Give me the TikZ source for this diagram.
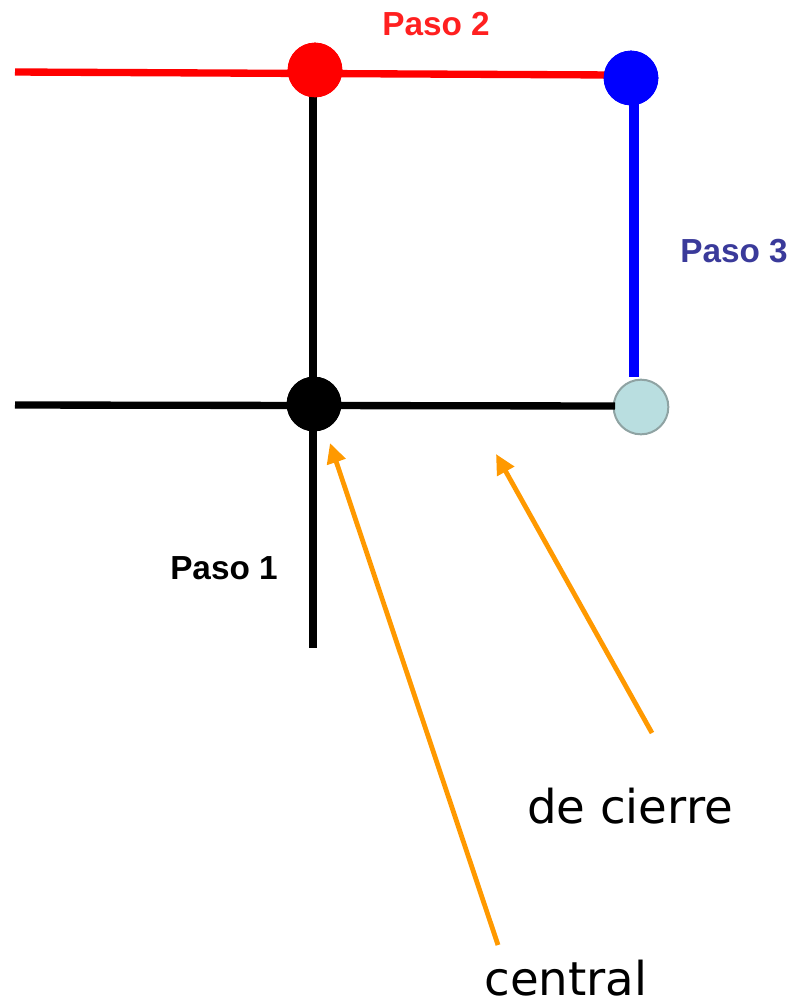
\documentclass[tikz,border=0pt]{standalone}
\usepackage{fontspec}
\setmainfont{DejaVu Sans}
\newfontfamily\pasofont{Liberation Sans}
\usetikzlibrary{arrows.meta}
\definecolor{arrorange}{HTML}{FF9900}
\definecolor{lightcyan}{HTML}{B9DEE0}
\definecolor{cyanedge}{HTML}{8FA3A3}
\definecolor{pasoblue}{HTML}{3A3A9A}
\definecolor{pasored}{HTML}{FF2020}
\tikzset{
  dot/.style={circle, minimum size=41pt, inner sep=0pt},
  pasolabel/.style={font=\pasofont\bfseries\fontsize{25}{28}\selectfont, inner sep=0pt},
  biglabel/.style={font=\fontsize{35}{40}\selectfont, inner sep=0pt},
  pointer/.style={arrorange, line width=3.6pt, -{Triangle[length=15pt,width=14pt]}},
}
\begin{document}
\begin{tikzpicture}[x=0.75pt, y=-0.75pt]
\useasboundingbox (0,0) rectangle (794,1004);
% nodes
\node[dot, fill=red] (red) at (315,70) {};
\node[dot, fill=blue] (blue) at (631,78) {};
\node[dot, fill=black] (black) at (314,404) {};
\node[dot, fill=lightcyan, draw=cyanedge, line width=1.5pt] (cyan) at (641,407) {};
\coordinate (redleft) at (15,72);
\coordinate (redright) at (615,75);
\coordinate (blackleft) at (15,405);
\coordinate (blackright) at (615,406);
\coordinate (top) at (313,72);
\coordinate (bottom) at (313,648);
\coordinate (bluetop) at (634,78);
\coordinate (bluebot) at (634,377);
% lines
\draw[black, line width=6pt] (top) -- (bottom);
\draw[black, line width=5.5pt] (blackleft) -- (blackright);
\draw[red, line width=5.5pt] (redleft) -- (redright);
\draw[blue, line width=8pt] (bluetop) -- (bluebot);
% redraw dots on top
\node[dot, fill=red] at (red) {};
\node[dot, fill=blue] at (blue) {};
\node[dot, fill=black] at (black) {};
% labels
\node[pasolabel, text=pasored] (p2) at (436,24) {Paso 2};
\node[pasolabel, text=pasoblue] (p3) at (734,251) {Paso 3};
\node[pasolabel, text=black] (p1) at (224,568) {Paso 1};
\node[biglabel] (cierre) at (630,806) {de cierre};
\node[biglabel] (central) at (566,978) {central};
% arrows
\coordinate (a1s) at (498,945);
\coordinate (a1e) at (330,443);
\coordinate (a2s) at (652,733);
\coordinate (a2e) at (496,454);
\draw[pointer] (a1s) -- (a1e);
\draw[pointer] (a2s) -- (a2e);
\end{tikzpicture}
\end{document}
